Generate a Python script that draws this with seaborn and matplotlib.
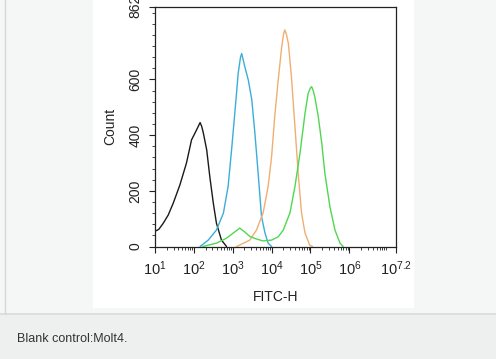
import numpy as np
import pandas as pd
import matplotlib
matplotlib.use("Agg")
import matplotlib.pyplot as plt
from matplotlib.patches import Rectangle
from matplotlib.lines import Line2D
from matplotlib.ticker import MultipleLocator, LogLocator, NullFormatter
import seaborn as sns

# log10(FITC-H) positions and counts
black_exp = [1.0, 1.04, 1.1, 1.21, 1.34, 1.47, 1.64, 1.81, 1.94, 2.02, 2.07, 2.16, 2.2, 2.24, 2.33, 2.41, 2.5, 2.58, 2.71, 2.84]
black_cnt = [59, 57, 62, 83, 113, 156, 221, 300, 383, 405, 419, 445, 432, 410, 347, 251, 156, 84, 23, 0]

blue_exp = [2.16, 2.37, 2.58, 2.76, 2.88, 2.97, 3.06, 3.14, 3.2, 3.23, 3.27, 3.31, 3.4, 3.49, 3.57, 3.66, 3.74, 3.83, 3.91, 4.0]
blue_cnt = [0, 23, 59, 120, 215, 347, 490, 622, 680, 693, 670, 646, 598, 527, 407, 251, 108, 48, 12, 0]

orange_exp = [3.1, 3.44, 3.61, 3.78, 3.91, 4.0, 4.08, 4.17, 4.26, 4.31, 4.34, 4.38, 4.43, 4.51, 4.6, 4.69, 4.77, 4.86, 4.98, 5.05]
orange_cnt = [0, 23, 59, 120, 215, 323, 467, 598, 718, 765, 778, 762, 730, 610, 431, 251, 120, 48, 5, 0]

green_exp = [2.23, 2.58, 2.84, 3.01, 3.18, 3.31, 3.44, 3.61, 3.78, 4.0, 4.17, 4.3, 4.47, 4.6, 4.73,
             4.86, 4.94, 5.0, 5.03, 5.07, 5.11, 5.2, 5.29, 5.37, 5.5, 5.63, 5.76, 5.84]
green_cnt = [0, 12, 30, 48, 66, 52, 36, 27, 20, 23, 35, 59, 120, 215, 335,
             479, 550, 570, 574, 560, 538, 467, 371, 263, 143, 59, 12, 0]

samples = ["blank", "blue", "orange", "green"]
colors = ["#1a1a1a", "#3aaed8", "#f0ae72", "#4fd84f"]

x_ticks = [1e1, 1e2, 1e3, 1e4, 1e5, 1e6, 10 ** 7.2]
x_labels = ["1", "2", "3", "4", "5", "6", "7.2"]
y_ticks = [0, 200, 400, 600, 862]

frames = []
for name, ex, ct in zip(samples, [black_exp, blue_exp, orange_exp, green_exp],
                        [black_cnt, blue_cnt, orange_cnt, green_cnt]):
    frames.append(pd.DataFrame({"fitc": 10 ** np.array(ex), "count": ct, "sample": name}))
df = pd.concat(frames, ignore_index=True)

sns.set_style("ticks")
plt.rcParams["font.family"] = ["Liberation Sans", "DejaVu Sans"]
plt.rcParams["mathtext.fontset"] = "custom"
plt.rcParams["mathtext.rm"] = "Liberation Sans"
plt.rcParams["mathtext.it"] = "Liberation Sans"

fig = plt.figure(figsize=(4.96, 3.59), dpi=100)
fig.patch.set_facecolor("#f5f6f6")

# page background pieces
fig.add_artist(Rectangle((0, 0), 1, 0.1267, transform=fig.transFigure, color="#eeefef", zorder=-3))
fig.add_artist(Line2D([0, 1], [0.1267, 0.1267], transform=fig.transFigure, color="#d9dada", lw=1.2, zorder=-2))
fig.add_artist(Line2D([0.0101, 0.0101], [0.1267, 1], transform=fig.transFigure, color="#d5d6d6", lw=1, zorder=-2))
fig.add_artist(Rectangle((93 / 496, 1 - 307 / 359), 320 / 496, 307 / 359,
                         transform=fig.transFigure, color="white", zorder=-2))
fig.text(17 / 496, 1 - 339 / 359, "Blank control:Molt4.", fontsize=9, color="#333333", va="center")

ax = fig.add_axes([155 / 496, 1 - 246.5 / 359, 241 / 496, 240 / 359])
ax.set_facecolor("white")
sns.lineplot(data=df, x="fitc", y="count", hue="sample", palette=colors, hue_order=samples,
             estimator=None, sort=False, legend=False, lw=1.0, ax=ax)

ax.set_xscale("log")
ax.set_xlim(1e1, 10 ** 7.2)
ax.set_ylim(0, 862)
ax.set_xticks(x_ticks)
ax.set_xticklabels([r"$\mathregular{10^{%s}}$" % s for s in x_labels], fontsize=10.5)
ax.xaxis.set_minor_locator(LogLocator(base=10, subs=np.arange(2, 10), numticks=20))
ax.xaxis.set_minor_formatter(NullFormatter())
ax.set_yticks(y_ticks)
ax.set_yticklabels([str(v) for v in y_ticks], fontsize=10, rotation=90, va="center")
ax.yaxis.set_minor_locator(MultipleLocator(40))
ax.tick_params(which="major", length=4, width=0.8, color="#222222")
ax.tick_params(which="minor", length=2, width=0.6, color="#222222")
ax.tick_params(axis="x", which="major", pad=5, labelcolor="#222222")
ax.tick_params(axis="y", which="major", pad=5, labelcolor="#222222")
for sp in ax.spines.values():
    sp.set_visible(True)
    sp.set_linewidth(0.9)
    sp.set_color("#222222")

ax.set_xlabel("FITC-H", fontsize=10, color="#222222", labelpad=9)
ax.set_ylabel("Count", fontsize=10, color="#222222", labelpad=8)

fig.savefig("out.png", dpi=100, facecolor=fig.get_facecolor())
